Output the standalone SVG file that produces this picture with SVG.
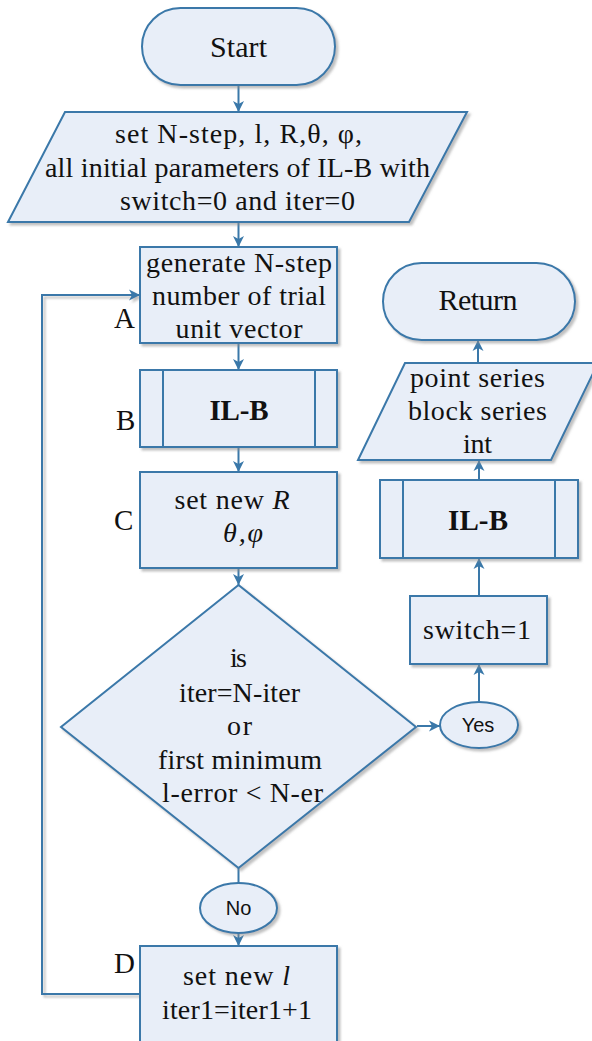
<svg xmlns="http://www.w3.org/2000/svg" width="592" height="1041" viewBox="0 0 592 1041">
  <defs>
    <filter id="shadow" x="-10%" y="-10%" width="130%" height="130%">
      <feDropShadow dx="2.5" dy="2.5" stdDeviation="0.8" flood-color="#8c8c8c" flood-opacity="0.55"/>
    </filter>
    <marker id="arrow" markerUnits="userSpaceOnUse" markerWidth="12" markerHeight="12" viewBox="0 0 12 12" refX="11" refY="6" orient="auto">
      <path d="M0,0.5 L11,6 L0,11.5 L3,6 Z" fill="#3a78a9"/>
    </marker>
  </defs>
  <style>
    .shape { fill: #e8eef8; stroke: #3a78a9; stroke-width: 2; filter: url(#shadow); }
    .inner { fill: none; stroke: #3a78a9; stroke-width: 2; }
    .conn { fill: none; stroke: #3a78a9; stroke-width: 2; }
    .arr { marker-end: url(#arrow); }
    .t { font-family: "Liberation Serif", "Times New Roman", serif; font-size: 28px; fill: #111; text-anchor: middle; }
    .big { font-size: 30px; }
    .bold { font-weight: bold; font-size: 29px; }
    .lbl { font-family: "Liberation Serif", "Times New Roman", serif; font-size: 29px; fill: #111; }
    .s { font-family: "Liberation Sans", Arial, sans-serif; font-size: 20px; fill: #111; text-anchor: middle; }
    .it { font-style: italic; }
  </style>

  <!-- connectors -->
  <g id="connectors">
    <line class="conn arr" x1="238.5" y1="85" x2="238.5" y2="112"/>
    <line class="conn arr" x1="238.5" y1="222" x2="238.5" y2="247"/>
    <line class="conn arr" x1="238.5" y1="343" x2="238.5" y2="370"/>
    <line class="conn arr" x1="238.5" y1="447" x2="238.5" y2="472"/>
    <line class="conn arr" x1="238.5" y1="568" x2="238.5" y2="585"/>
    <line class="conn" x1="238.5" y1="868" x2="238.5" y2="883"/>
    <line class="conn arr" x1="238.5" y1="933" x2="238.5" y2="946"/>
    <path class="conn arr" d="M140,994 H42 V295 H140" style="filter:url(#shadow)"/>
    <line class="conn arr" x1="417" y1="726" x2="440" y2="726"/>
    <line class="conn arr" x1="479" y1="702" x2="479" y2="664"/>
    <line class="conn arr" x1="479" y1="596" x2="479" y2="558"/>
    <line class="conn arr" x1="479" y1="480" x2="479" y2="460"/>
    <line class="conn arr" x1="478" y1="363" x2="478" y2="340"/>
  </g>

  <g id="start">
    <rect class="shape" x="142" y="8" width="193" height="77" rx="38.5" ry="38.5"/>
    <text class="t big" x="238.5" y="57" textLength="57">Start</text>
  </g>

  <g id="init">
    <polygon class="shape" points="65,112 467,112 409,222 8,222"/>
    <text class="t" x="238.5" y="143" textLength="247">set N-step, l, R,θ, φ,</text>
    <text class="t" x="237.5" y="177" textLength="385">all initial parameters of IL-B with</text>
    <text class="t" x="237.5" y="210" textLength="235">switch=0 and iter=0</text>
  </g>

  <g id="stepA">
    <rect class="shape" x="140" y="247" width="197" height="96"/>
    <text class="t" x="239" y="272" textLength="186">generate N-step</text>
    <text class="t" x="239" y="305" textLength="174">number of trial</text>
    <text class="t" x="239" y="338" textLength="127">unit vector</text>
    <text class="lbl" x="114" y="328">A</text>
  </g>

  <g id="stepB">
    <rect class="shape" x="140" y="370" width="197" height="77"/>
    <line class="inner" x1="163" y1="370" x2="163" y2="447"/>
    <line class="inner" x1="315" y1="370" x2="315" y2="447"/>
    <text class="t bold" x="239" y="420" textLength="59">IL-B</text>
    <text class="lbl" x="116" y="430">B</text>
  </g>

  <g id="stepC">
    <rect class="shape" x="140" y="472" width="197" height="96"/>
    <text class="t" x="232" y="509" textLength="115">set new <tspan class="it">R</tspan></text>
    <text class="t it" x="243" y="542" textLength="40">θ,φ</text>
    <text class="lbl" x="114" y="530">C</text>
  </g>

  <g id="decision">
    <polygon class="shape" points="238.5,585 416,727 238.5,868 61,727"/>
    <text class="t" x="238.5" y="667" textLength="17">is</text>
    <text class="t" x="239.5" y="702" textLength="121">iter=N-iter</text>
    <text class="t" x="239.5" y="735" textLength="25">or</text>
    <text class="t" x="240" y="769" textLength="164">first minimum</text>
    <text class="t" x="242.5" y="802" textLength="161">l-error &lt; N-er</text>
  </g>

  <g id="no">
    <ellipse class="shape" cx="238.5" cy="908" rx="38.5" ry="25"/>
    <text class="s" x="238.5" y="915">No</text>
  </g>

  <g id="stepD">
    <rect class="shape" x="140" y="946" width="197" height="100"/>
    <text class="t" x="236.5" y="985" textLength="107">set new <tspan class="it">l</tspan></text>
    <text class="t" x="237" y="1019" textLength="150">iter1=iter1+1</text>
    <text class="lbl" x="114" y="973">D</text>
  </g>

  <g id="yes">
    <ellipse class="shape" cx="479" cy="725" rx="39" ry="23"/>
    <text class="s" x="478" y="732">Yes</text>
  </g>

  <g id="switch">
    <rect class="shape" x="410" y="596" width="137" height="68"/>
    <text class="t" x="477" y="639" textLength="108">switch=1</text>
  </g>

  <g id="ilb2">
    <rect class="shape" x="380" y="480" width="198" height="78"/>
    <line class="inner" x1="403" y1="480" x2="403" y2="558"/>
    <line class="inner" x1="555" y1="480" x2="555" y2="558"/>
    <text class="t bold" x="478" y="530" textLength="60">IL-B</text>
  </g>

  <g id="output">
    <polygon class="shape" points="405,363 598,363 551,460 358,460"/>
    <text class="t" x="477.5" y="387" textLength="135">point series</text>
    <text class="t" x="477.5" y="420" textLength="139">block series</text>
    <text class="t" x="477.5" y="453" textLength="29">int</text>
  </g>

  <g id="return">
    <rect class="shape" x="383" y="263" width="192" height="77" rx="38.5" ry="38.5"/>
    <text class="t big" x="478" y="310" textLength="79">Return</text>
  </g>
</svg>
